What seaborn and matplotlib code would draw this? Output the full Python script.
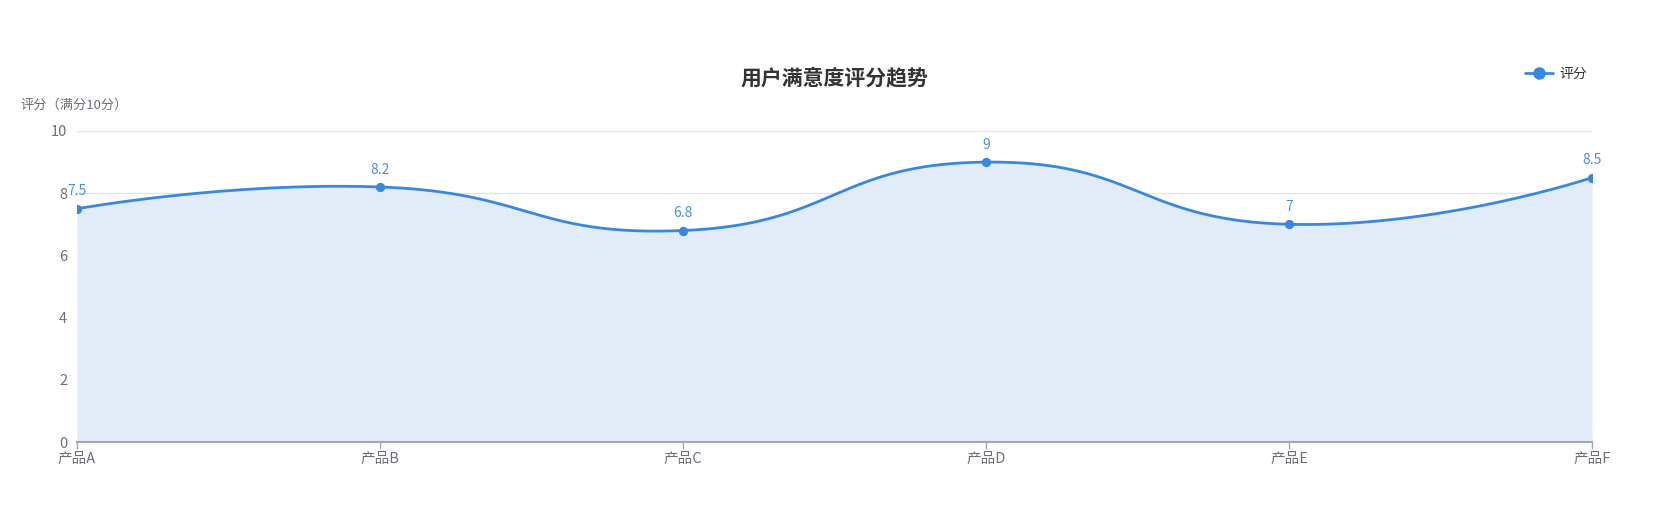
import numpy as np
import pandas as pd
import matplotlib
matplotlib.use("Agg")
import matplotlib.pyplot as plt
import seaborn as sns
from matplotlib.lines import Line2D

categories = ["产品A", "产品B", "产品C", "产品D", "产品E", "产品F"]
scores = [7.5, 8.2, 6.8, 9.0, 7.0, 8.5]
score_labels = ["7.5", "8.2", "6.8", "9", "7", "8.5"]
y_ticks = [0, 2, 4, 6, 8, 10]
series_name = "评分"
title_text = "用户满意度评分趋势"
y_axis_name = "评分（满分10分）"

sns.set_theme(style="white")
plt.rcParams['font.family'] = ['Noto Sans CJK SC', 'DejaVu Sans']

LINE = "#3a87e0"
LABEL = "#4a90e2"
FILL = "#e2ecf8"
GRID = "#e0e6f1"
AXIS = "#a3a7ae"
TXT = "#6e7079"

W, H = 1661, 512
fig = plt.figure(figsize=(W / 100, H / 100), dpi=100)
left, right, top, bottom = 77, 1592, 131, 442
ax = fig.add_axes([left / W, 1 - bottom / H, (right - left) / W, (bottom - top) / H])
ax.set_xlim(0, len(categories) - 1)
ax.set_ylim(0, 10)

xs = np.arange(len(categories), dtype=float)
ys = np.array(scores, dtype=float)

# echarts-like smooth bezier computed in pixel space
pix = ax.transData.transform(np.column_stack([xs, ys]))
smooth = 0.5
n = len(pix)
curve = []
cp0 = pix[0].copy()
for k in range(1, n):
    p = pix[k]
    prev = pix[k - 1]
    if k == n - 1:
        cp1 = p.copy()
        nxt_cp0 = None
    else:
        nxt = pix[k + 1]
        v = nxt - prev
        lp = np.hypot(*(p - prev))
        ln = np.hypot(*(nxt - p))
        r = ln / (ln + lp)
        cp1 = p - v * smooth * (1 - r)
        nxt_cp0 = p + v * smooth * r
    t = np.linspace(0, 1, 80)[:, None]
    seg = ((1 - t) ** 3) * prev + 3 * ((1 - t) ** 2) * t * cp0 + 3 * (1 - t) * t ** 2 * cp1 + t ** 3 * p
    curve.append(seg if k == 1 else seg[1:])
    cp0 = nxt_cp0
curve = np.vstack(curve)
cdata = ax.transData.inverted().transform(curve)
df_curve = pd.DataFrame({"x": cdata[:, 0], "y": cdata[:, 1]})

ax.fill_between(df_curve["x"], 0, df_curve["y"], color=FILL, zorder=1, linewidth=0)
sns.lineplot(data=df_curve, x="x", y="y", sort=False, estimator=None, ax=ax,
             color=LINE, linewidth=2, zorder=3)
df_pts = pd.DataFrame({"x": xs, "y": ys})
sns.scatterplot(data=df_pts, x="x", y="y", ax=ax, color=LINE, s=45,
                edgecolor=LINE, linewidth=0, zorder=4)

for x, y, lab in zip(xs, ys, score_labels):
    ax.annotate(lab, (x, y), xytext=(0, 7.5), textcoords="offset points",
                ha="center", va="bottom", fontsize=10, color=LABEL, zorder=5)

ax.set_yticks(y_ticks)
ax.set_yticklabels([str(v) for v in y_ticks])
ax.set_xticks(xs)
ax.set_xticklabels(categories)
ax.grid(axis="y", color=GRID, linewidth=1)
ax.set_axisbelow(True)
for s in ["top", "right", "left"]:
    ax.spines[s].set_visible(False)
ax.spines["bottom"].set_color(AXIS)
ax.spines["bottom"].set_linewidth(1.5)
ax.spines["bottom"].set_zorder(6)
ax.tick_params(axis="y", length=0, pad=7, labelsize=10.5, labelcolor=TXT)
ax.tick_params(axis="x", length=5, width=1, color=AXIS, pad=2, labelsize=10.5, labelcolor=TXT,
               direction="out", bottom=True)
ax.set_xlabel("")
ax.set_ylabel("")

fig.text(834 / W, 1 - 78 / H, title_text, ha="center", va="center",
         fontsize=15, fontweight="bold", color="#333333")
fig.text(20 / W, 1 - 105 / H, y_axis_name, ha="left", va="center", fontsize=9.5, color=TXT)

handle = Line2D([0], [0], color=LINE, linewidth=2, marker="o", markersize=8)
leg = fig.legend([handle], [series_name], loc="center left",
                 bbox_to_anchor=(1518 / W, 1 - 74 / H), frameon=False,
                 fontsize=10, handlelength=2.0, handletextpad=0.5, borderpad=0)
for t in leg.get_texts():
    t.set_color("#333333")

fig.savefig("out.png", dpi=100)
